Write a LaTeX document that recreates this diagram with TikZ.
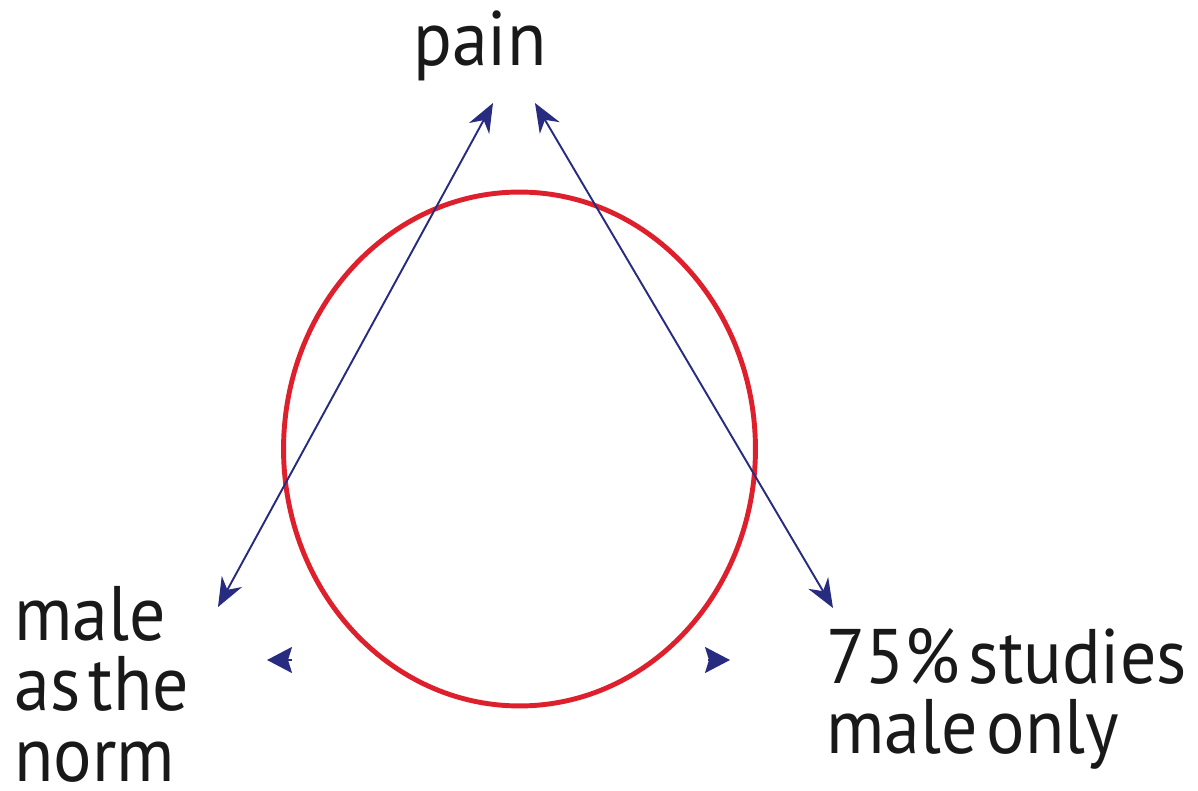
\documentclass[tikz,border=0pt]{standalone}
\usepackage{fontspec}
\setmainfont{PT Sans}
\newfontfamily\lblfont[FakeStretch=0.93,WordSpace=0.45]{PT Sans}
\usepackage{tikz}
\usetikzlibrary{arrows.meta}
\definecolor{RingRed}{RGB}{222,32,44}
\definecolor{ArrBlue}{RGB}{40,44,128}

\begin{document}
\begin{tikzpicture}[x=0.02cm,y=-0.02cm,
    ring/.style={draw=RingRed,line width=2.8pt},
    arr/.style={{Stealth[length=0.58cm,width=0.46cm]}-{Stealth[length=0.58cm,width=0.46cm]},
                ArrBlue,line width=1.1pt},
    tipshort/.style={-{Stealth[length=0.5cm,width=0.52cm,inset=0.08cm]},ArrBlue,line width=1.1pt},
    lbl/.style={font=\lblfont\fontsize{44}{40}\selectfont,inner sep=0pt,align=left,text=black!90}
  ]
  \useasboundingbox (0,0) rectangle (1198,791);

  % the ring
  \draw[ring] (519.5,449) ellipse [x radius=4.72cm,y radius=5.14cm];

  % labels
  \node[lbl,anchor=base west] (pain) at (413,65) {pain};
  \node[lbl,anchor=north west] (norm) at (14,586) {male\\as the\\norm};
  \node[lbl,anchor=north west] (studies) at (826,628) {75\% studies\\male only};

  % arrow ends
  \coordinate (pl) at (493,103);
  \coordinate (pr) at (535,103);
  \coordinate (nl) at (218,607);
  \coordinate (sr) at (833,608);
  \coordinate (al) at (292,660);
  \coordinate (al tip) at (267,660);
  \coordinate (ar) at (708,660);
  \coordinate (ar tip) at (730,660);

  \draw[arr] (pl) -- (nl);
  \draw[arr] (pr) -- (sr);
  \draw[tipshort] (al) -- (al tip);
  \draw[tipshort] (ar) -- (ar tip);
\end{tikzpicture}
\end{document}
